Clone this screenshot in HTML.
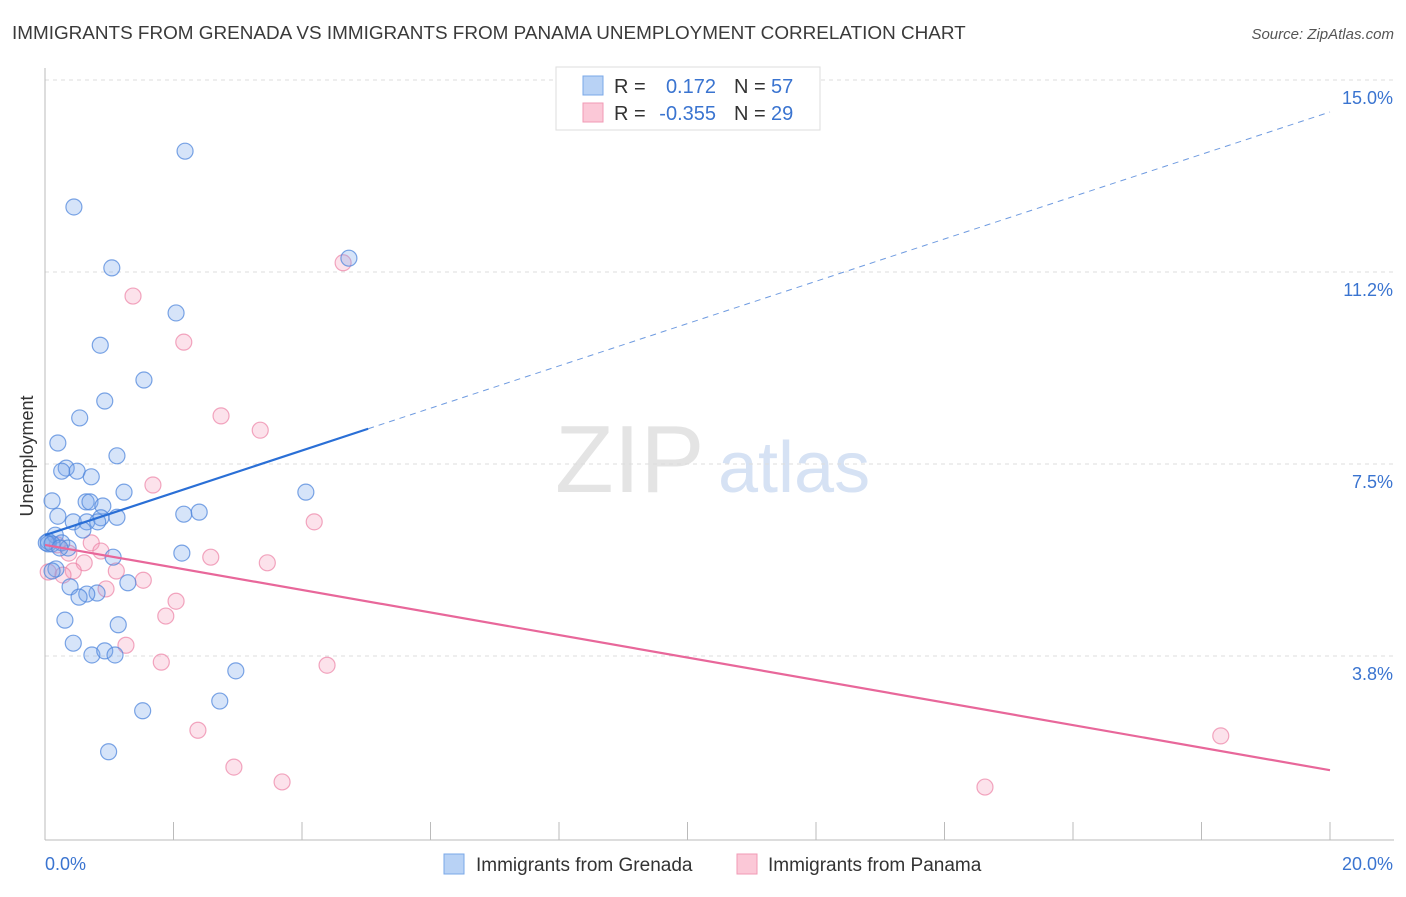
<!DOCTYPE html>
<html><head><meta charset="utf-8">
<style>
body{margin:0;background:#fff;font-family:"Liberation Sans",sans-serif;}
svg text{font-family:"Liberation Sans",sans-serif;}
</style></head>
<body>
<svg id="chart" width="1406" height="892" xmlns="http://www.w3.org/2000/svg">
<text x="12" y="39" font-size="18.9" fill="#3a3a3a">IMMIGRANTS FROM GRENADA VS IMMIGRANTS FROM PANAMA UNEMPLOYMENT CORRELATION CHART</text>
<text x="1394" y="39" font-size="15" fill="#555" font-style="italic" text-anchor="end">Source: ZipAtlas.com</text>
<text x="33" y="456" font-size="18" fill="#333" text-anchor="middle" transform="rotate(-90 33 456)">Unemployment</text>
<text x="555" y="492" font-size="96" fill="#e4e4e4" font-family="Liberation Serif">ZIP</text>
<text x="718" y="492" font-size="72" fill="#d6e2f4">atlas</text>
<g id="grid"></g>
<g id="axes"></g>
<g id="points"></g>
<g id="trends"></g>
<g>
<rect x="556" y="67" width="264" height="63" fill="#fff" stroke="#ddd"/>
<rect x="583" y="76" width="20" height="19" fill="#b8d2f5" stroke="#7aa8e8"/>
<rect x="583" y="103" width="20" height="19" fill="#fbc8d7" stroke="#f09ab4"/>
<text x="614" y="93" font-size="20" fill="#333">R =</text>
<text x="716" y="93" font-size="20" fill="#3a74d0" text-anchor="end">0.172</text>
<text x="734" y="93" font-size="20" fill="#333">N =</text>
<text x="771" y="93" font-size="20" fill="#3a74d0">57</text>
<text x="614" y="120" font-size="20" fill="#333">R =</text>
<text x="716" y="120" font-size="20" fill="#3a74d0" text-anchor="end">-0.355</text>
<text x="734" y="120" font-size="20" fill="#333">N =</text>
<text x="771" y="120" font-size="20" fill="#3a74d0">29</text>
</g>
<g>
<rect x="444" y="854" width="20" height="20" fill="#b8d2f5" stroke="#7aa8e8"/>
<text x="476" y="871" font-size="19" fill="#333">Immigrants from Grenada</text>
<rect x="737" y="854" width="20" height="20" fill="#fbc8d7" stroke="#f09ab4"/>
<text x="768" y="871" font-size="19" fill="#333">Immigrants from Panama</text>
</g>
</svg>
<script>
const yTicks=[15.0,11.25,7.5,3.75];
const yTickLabels=["15.0%","11.2%","7.5%","3.8%"];
const xTickVals=[0,2,4,6,8,10,12,14,16,18,20];
const blueX=[2.18,0.45,4.73,1.04,2.04,0.86,1.54,0.93,0.54,0.20,1.12,0.33,0.26,0.50,0.72,1.23,4.06,0.11,0.64,0.70,0.90,2.16,2.40,0.20,1.12,0.87,0.44,0.65,0.82,0.59,0.16,0.05,0.26,0.36,0.05,2.13,1.06,0.17,0.11,1.29,0.39,0.81,0.65,0.53,1.14,0.31,0.44,0.73,0.93,1.09,2.97,2.72,1.52,0.99,0.02,0.11,0.23];
const blueY=[13.61,12.52,11.52,11.33,10.45,9.82,9.14,8.73,8.40,7.91,7.66,7.42,7.36,7.36,7.25,6.95,6.95,6.78,6.76,6.76,6.68,6.52,6.56,6.48,6.46,6.45,6.37,6.37,6.37,6.21,6.11,5.99,5.96,5.86,5.94,5.76,5.68,5.45,5.41,5.18,5.10,4.98,4.96,4.90,4.36,4.45,4.00,3.77,3.85,3.77,3.46,2.87,2.68,1.88,5.96,5.94,5.86];
const pinkX=[1.37,2.16,4.64,2.74,3.35,1.68,4.19,0.72,0.19,0.87,0.37,2.58,3.46,0.61,1.11,0.44,0.28,1.53,0.05,0.95,2.04,1.88,1.26,1.81,4.39,2.38,2.94,3.69,14.63,18.30];
const pinkY=[10.78,9.88,11.43,8.44,8.16,7.09,6.37,5.96,5.92,5.80,5.76,5.68,5.57,5.57,5.41,5.41,5.33,5.23,5.39,5.06,4.82,4.53,3.96,3.63,3.57,2.30,1.58,1.29,1.19,2.19];
const blueTrend=[6.11,14.375];
const pinkTrend=[5.92,1.52];
const sx=v=>45+v/20*1285;
const sy=v=>80+(15-v)*51.2;
const NS="http://www.w3.org/2000/svg";
function mk(tag,attrs,parent){const e=document.createElementNS(NS,tag);for(const k in attrs)e.setAttribute(k,attrs[k]);document.getElementById(parent).appendChild(e);return e;}
yTicks.forEach((t,i)=>{
  const l=mk('line',{x1:45,x2:1394,y1:sy(t),y2:sy(t),stroke:'#ddd','stroke-dasharray':'4,4'},'grid');
  
  
  const tx=mk('text',{x:1393,y:sy(t)+24,'font-size':18,fill:'#3a74d0','text-anchor':'end'},'grid');
  tx.textContent=yTickLabels[i];
  
  
});
const ax=mk('line',{x1:45,x2:45,y1:68,y2:840,stroke:'#bbb'},'axes');


const bx=mk('line',{x1:45,x2:1394,y1:840,y2:840,stroke:'#bbb'},'axes');


xTickVals.forEach(v=>{
  const t=mk('line',{x1:sx(v),x2:sx(v),y1:822,y2:840,stroke:'#bbb'},'axes');
  
  
});
const xl0=mk('text',{x:45,y:870,'font-size':18,fill:'#3a74d0'},'axes');xl0.textContent='0.0%';


const xl1=mk('text',{x:1393,y:870,'font-size':18,fill:'#3a74d0','text-anchor':'end'},'axes');xl1.textContent='20.0%';


pinkX.forEach((x,i)=>{
  const c=mk('circle',{cx:sx(x),cy:sy(pinkY[i]),r:8,fill:'rgba(246,160,188,0.3)',stroke:'rgba(236,130,165,0.7)','stroke-width':1.2},'points');
  
  
});
blueX.forEach((x,i)=>{
  const c=mk('circle',{cx:sx(x),cy:sy(blueY[i]),r:8,fill:'rgba(120,165,235,0.3)',stroke:'rgba(80,135,220,0.75)','stroke-width':1.2},'points');
  
  
});
const bf=v=>blueTrend[0]+(blueTrend[1]-blueTrend[0])*v/20;
const b1=mk('line',{x1:sx(0),y1:sy(bf(0)),x2:sx(5.03),y2:sy(bf(5.03)),stroke:'#2a6fd6','stroke-width':2.2},'trends');


const b2=mk('line',{x1:sx(5.03),y1:sy(bf(5.03)),x2:sx(20),y2:sy(bf(20)),stroke:'#6f9be0','stroke-width':1,'stroke-dasharray':'6,5'},'trends');


const p1=mk('line',{x1:sx(0),y1:sy(pinkTrend[0]),x2:sx(20),y2:sy(pinkTrend[1]),stroke:'#e8679a','stroke-width':2.2},'trends');


</script>
</body></html>
